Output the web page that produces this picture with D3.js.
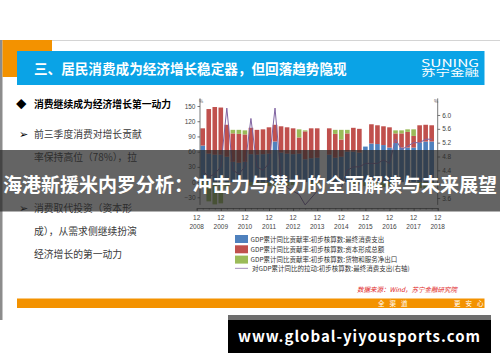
<!DOCTYPE html>
<meta charset="utf-8"/>
<style>
  body { margin: 0; background: #fff; }
  svg text { font-family: "Noto Sans CJK SC", "Noto Sans", sans-serif; }
  .axis text { font-size: 6.5px; fill: #444; font-family: "Liberation Sans", sans-serif; }
  .axis path, .axis line { stroke: #555; stroke-width: 0.8; }
</style>
<svg width="500" height="362"></svg>
<script src="https://d3js.org/d3.v7.min.js"></script>
<script>

  // quarterly data, 2009Q1 .. 2018Q3 (2014Q1 missing)
  var quarters = ["2009Q1","2009Q2","2009Q3","2009Q4","2010Q1","2010Q2","2010Q3","2010Q4",
    "2011Q1","2011Q2","2011Q3","2011Q4","2012Q1","2012Q2","2012Q3","2012Q4",
    "2013Q1","2013Q2","2013Q3","2013Q4","2014Q1","2014Q2","2014Q3","2014Q4",
    "2015Q1","2015Q2","2015Q3","2015Q4","2016Q1","2016Q2","2016Q3","2016Q4",
    "2017Q1","2017Q2","2017Q3","2017Q4","2018Q1","2018Q2","2018Q3"];
  var consumption = [72,56,54,54, 50,40,38,40, 55,54,55,56, 80,58,56,55,
    56,45,47,48, null,54,48,50, 60,60,58,70, 76,75,73,68, 77,68,68,68, 78,80,80];
  var capital = [34,88,94,93, 63,56,57,54, 52,49,49,52, 33,52,52,51,
    32,55,59,58, null,52,47,34, 36,47,47,0, 38,37,37,40, 19,28,31,23, 34,33,32];
  var netExports = [-8,-38,-44,-42, -13,7,8,8, -7,-3,-4,-8, -13,-10,-8,-6,
    16,2,-6,-6, null,-3,8,19, 7,-7,-5,-8, -14,-12,-10,-8, 6,6,5,13, -12,-13,-12];
  var pull = [4.4,4.2,4.3,4.5, 6.2,4.4,4.3,4.5, 5.9,4.5,4.4,4.6, 6.2,4.2,3.9,3.8,
    3.7,3.4,3.6,3.8, null,3.9,3.8,3.9, 4.4,4.5,4.5,4.6, 4.6,4.6,4.7,4.6, 5.3,5.0,5.1,5.2, 5.2,5.3,5.3];
  var years = ["2008","2009","2010","2011","2012","2013","2014","2015","2016","2017","2018"];
  var leftTicks = [-30, 0, 30, 60, 90, 120, 150];
  var rightTicks = [3.6, 4.0, 4.4, 4.8, 5.2, 5.6, 6.0];
  var legendItems = [
    {name: "GDP累计同比贡献率:初步核算数:最终消费支出", color: "#4F81BD", kind: "bar"},
    {name: "GDP累计同比贡献率:初步核算数:资本形成总额", color: "#C0504D", kind: "bar"},
    {name: "GDP累计同比贡献率:初步核算数:货物和服务净出口", color: "#9BBB59", kind: "bar"},
    {name: "对GDP累计同比的拉动:初步核算数:最终消费支出(右轴)", color: "#B3A2C7", kind: "line"}
  ];
  var bullets = [
    {mark: "◆", lines: ["消费继续成为经济增长第一动力"], y: [104.5], bold: true},
    {mark: "➢", lines: ["前三季度消费对增长贡献", "率保持高位（78%），拉"], y: [134, 157.5]},
    {mark: "➢", lines: ["消费取代投资（资本形", "成），从需求侧继续扮演", "经济增长的第一动力"], y: [208, 231.5, 254]}
  ];

  var svg = d3.select("svg");

  // ---- slide frame ----
  svg.append("line").attr("x1", 0).attr("x2", 500).attr("y1", 40.5).attr("y2", 40.5)
    .attr("stroke", "#d4d4d4");
  svg.append("rect").attr("x", 0).attr("y", 40).attr("width", 2.5).attr("height", 280).attr("fill", "#8c8c8c");
  svg.append("rect").attr("x", 2.5).attr("y", 40).attr("width", 49.5).attr("height", 37).attr("fill", "#F39200");
  svg.append("rect").attr("x", 17).attr("y", 51).attr("width", 467.5).attr("height", 34).attr("fill", "#0AA3E6");
  svg.append("text").attr("x", 34).attr("y", 73.5)
    .attr("fill", "#fff").attr("font-size", 13.6).attr("font-weight", "bold")
    .text("三、居民消费成为经济增长稳定器，但回落趋势隐现");
  svg.append("text").attr("x", 421).attr("y", 66.5).attr("fill", "#fff")
    .attr("font-size", 10).attr("font-family", "DejaVu Sans")
    .attr("textLength", 58).attr("lengthAdjust", "spacingAndGlyphs")
    .text("SUNING");
  svg.append("text").attr("x", 421).attr("y", 76).attr("fill", "#fff")
    .attr("font-size", 9).attr("textLength", 58).attr("lengthAdjust", "spacingAndGlyphs").text("苏宁金融");

  // ---- left text ----
  bullets.forEach(function (b) {
    svg.append("text").attr("x", b.bold ? 16 : 18.5).attr("y", b.y[0] + 3.8)
      .attr("font-size", 10.5).attr("fill", "#000")
      .attr("font-family", "DejaVu Sans").text(b.mark);
    b.lines.forEach(function (l, j) {
      svg.append("text").attr("x", 34).attr("y", b.y[j] + 3.5)
        .attr("font-size", 9.8).attr("font-weight", b.bold ? "bold" : "normal")
        .attr("fill", b.bold ? "#000" : "#3a3a3a").text(l);
    });
  });

  // ---- chart ----
  var x = d3.scaleLinear().domain([0, 40]).range([196.7, 437.7]);
  var yL = d3.scaleLinear().domain([-45, 165]).range([204.9, 98.4]);
  var yR = d3.scaleLinear().domain([3.4, 6.48]).range([204.9, 98.4]);

  function qIndex(q) { return (+q.slice(0, 4) - 2008) * 4 + (+q.slice(5)) - 4; }

  var rows = [];
  quarters.forEach(function (q, i) {
    if (consumption[i] == null) return;
    rows.push({q: q, c: consumption[i], k: capital[i], n: netExports[i]});
  });
  var series = d3.stack().keys(["c", "k", "n"]).offset(d3.stackOffsetDiverging)(rows);
  var colors = {c: "#4F81BD", k: "#C0504D", n: "#9BBB59"};
  var bw = 4.6;

  svg.append("g").selectAll("g").data(series).enter().append("g")
    .attr("fill", function (d) { return colors[d.key]; })
    .selectAll("rect").data(function (d) { return d; }).enter().append("rect")
    .attr("x", function (d) { return x(qIndex(d.data.q)) - bw / 2; })
    .attr("width", bw)
    .attr("y", function (d) { return yL(Math.max(d[0], d[1])); })
    .attr("height", function (d) { return Math.abs(yL(d[0]) - yL(d[1])); });

  var line = d3.line()
    .defined(function (d) { return d.v != null; })
    .x(function (d) { return x(qIndex(d.q)); })
    .y(function (d) { return yR(d.v); });
  svg.append("path")
    .datum(quarters.map(function (q, i) { return {q: q, v: pull[i]}; }))
    .attr("fill", "none").attr("stroke", "#8064A2").attr("stroke-width", 1)
    .attr("d", line);

  // axes
  var axL = svg.append("g").attr("class", "axis").attr("transform", "translate(200,0)")
    .call(d3.axisLeft(yL).tickValues(leftTicks).tickSize(2.5).tickPadding(2).tickFormat(d3.format("d")));
  var axR = svg.append("g").attr("class", "axis").attr("transform", "translate(437.7,0)")
    .call(d3.axisRight(yR).tickValues(rightTicks).tickSize(2.5).tickPadding(2).tickFormat(d3.format(".1f")));
  [axL, axR].forEach(function (a) { a.select(".domain").attr("d", "M0,98.4V204.9"); });
  svg.append("text").attr("class", "axis").attr("x", 199).attr("y", 103).attr("font-size", 4.5).attr("fill", "#555").text("%");
  svg.append("text").attr("class", "axis").attr("x", 434).attr("y", 103).attr("font-size", 4.5).attr("fill", "#555").text("%");

  var xAxisY = 208;
  var xa = svg.append("g").attr("class", "axis").attr("transform", "translate(0," + xAxisY + ")");
  xa.call(d3.axisBottom(x).tickValues(d3.range(0, 41)).tickSize(2).tickFormat(""));
  xa.selectAll(".tick line").attr("y2", function (d) { return d % 4 === 0 ? 3 : 1.5; });
  var yt = svg.append("g").attr("class", "axis").selectAll("g").data(years).enter().append("g")
    .attr("transform", function (d, i) { return "translate(" + x(i * 4) + ",0)"; });
  yt.append("text").attr("y", 219.5).attr("text-anchor", "middle").text("12");
  yt.append("text").attr("y", 228.5).attr("text-anchor", "middle").text(function (d) { return d; });

  // legend
  var lg = svg.append("g").selectAll("g").data(legendItems).enter().append("g")
    .attr("transform", function (d, i) { return "translate(235," + (235 + i * 10.3) + ")"; });
  lg.filter(function (d) { return d.kind === "bar"; }).append("rect")
    .attr("width", 13).attr("height", 8).attr("fill", function (d) { return d.color; });
  lg.filter(function (d) { return d.kind === "line"; }).append("line")
    .attr("x1", 0).attr("x2", 13).attr("y1", 2.5).attr("y2", 2.5)
    .attr("stroke", function (d) { return d.color; }).attr("stroke-width", 1.2);
  lg.append("text").attr("x", d => d.kind === "line" ? 17 : 15.5).attr("y", d => d.kind === "line" ? 5 : 6.5)
    .attr("font-size", 6.5).attr("fill", "#333").text(function (d) { return d.name; });

  svg.append("text").attr("x", 357).attr("y", 291.5).attr("font-size", 6.5)
    .attr("fill", "#E02424").attr("font-style", "italic").text("数据来源：Wind，苏宁金融研究院");

  // footer
  svg.append("rect").attr("x", 17).attr("y", 298.5).attr("width", 467.5).attr("height", 9.5).attr("fill", "#F39200");
  svg.append("text").attr("x", 378).attr("y", 306).attr("font-size", 6.5).attr("fill", "#fff")
    .attr("letter-spacing", 5).text("全渠道");
  svg.append("text").attr("x", 454).attr("y", 306).attr("font-size", 6.5).attr("fill", "#fff")
    .attr("letter-spacing", 5).text("更安心");

  // overlay banner
  svg.append("rect").attr("x", 0).attr("y", 150).attr("width", 500).attr("height", 61.5)
    .attr("fill", "rgba(40,40,40,0.72)");
  svg.append("text").attr("x", 250).attr("y", 192).attr("text-anchor", "middle")
    .attr("font-size", 19).attr("font-weight", "bold").attr("fill", "#fff")
    .attr("textLength", 494).text("海港新援米内罗分析：冲击力与潜力的全面解读与未来展望");

  // watermark box
  svg.append("rect").attr("x", 228).attr("y", 315).attr("width", 263).attr("height", 38).attr("fill", "#000");
  svg.append("rect").attr("x", 228).attr("y", 315).attr("width", 263).attr("height", 5).attr("fill", "#6e6e6e");
  svg.append("text").attr("x", 238).attr("y", 342).attr("font-size", 15).attr("font-weight", "bold")
    .attr("font-family", "DejaVu Sans").attr("fill", "#fff").attr("textLength", 242)
    .text("www.global-yiyousports.com");

</script>
